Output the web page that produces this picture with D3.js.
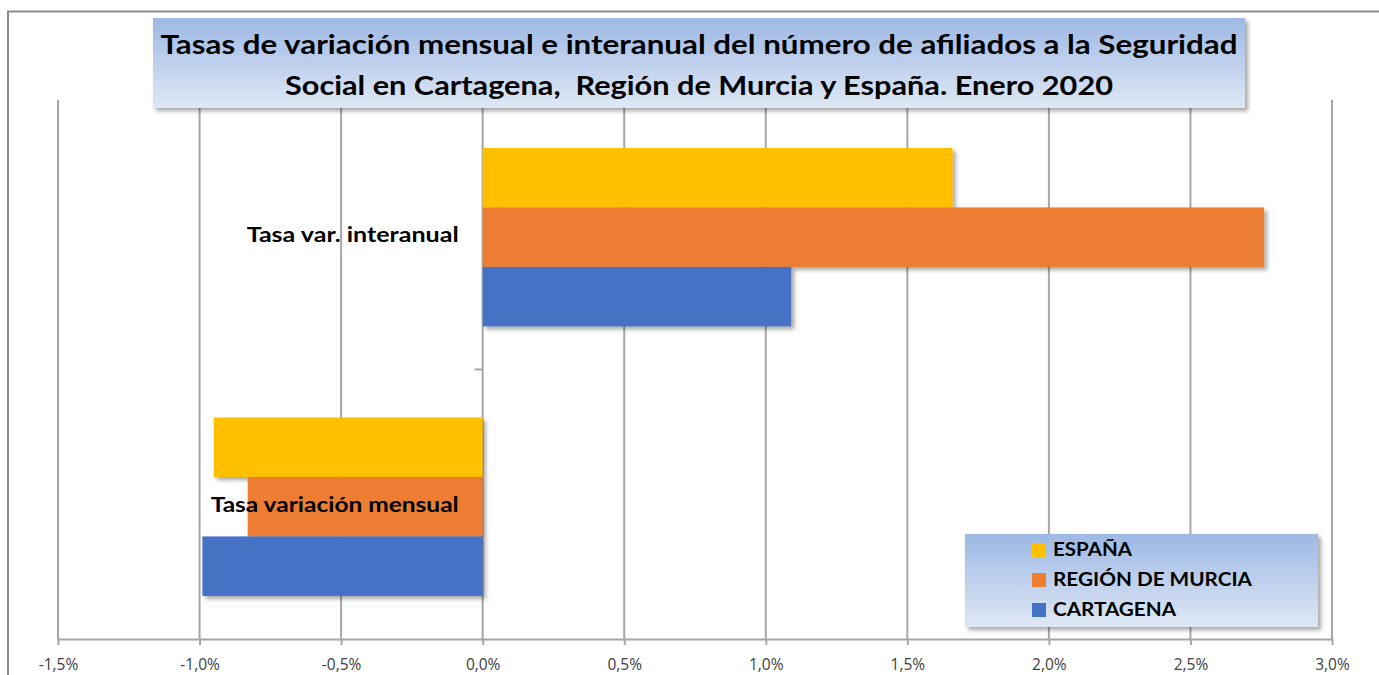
<!DOCTYPE html>
<html><head><meta charset="utf-8">
<script src="https://cdn.jsdelivr.net/npm/d3@7"></script>
<style>
html,body{margin:0;padding:0;background:#fff;}
svg{display:block;}
text{font-family:Lato,"Open Sans",sans-serif;}
</style></head>
<body>
<svg id="chart" width="1379" height="675"></svg>
<script>
const categories = ["Tasa var. interanual", "Tasa variación mensual"];
const seriesNames = ["ESPAÑA", "REGIÓN DE MURCIA", "CARTAGENA"];
const espana = [1.66, -0.95];
const murcia = [2.76, -0.83];
const cartagena = [1.09, -0.99];
const seriesColors = ["#FFC000", "#ED7D31", "#4472C4"];
const xTicks = [-1.5, -1.0, -0.5, 0, 0.5, 1.0, 1.5, 2.0, 2.5, 3.0];
const titleLines = ["Tasas de variación mensual e interanual del número de afiliados a la Seguridad",
                    "Social en Cartagena,  Región de Murcia y España. Enero 2020"];

// text widths (layout only)
const titleWidths = [1077, 828];
const catLabelWidths = [212, 248];
const legendWidths = [79, 199, 123];

const seriesValues = [espana, murcia, cartagena];

const svg = d3.select("#chart");
const defs = svg.append("defs");
const sh = defs.append("filter").attr("id","shadow").attr("x","-10%").attr("y","-10%").attr("width","130%").attr("height","140%");
sh.append("feDropShadow").attr("dx",3).attr("dy",3).attr("stdDeviation",2).attr("flood-color","#000").attr("flood-opacity",0.35);
const grad = defs.append("linearGradient").attr("id","boxgrad").attr("x1",0).attr("y1",0).attr("x2",0).attr("y2",1);
grad.append("stop").attr("offset","0%").attr("stop-color","#9DB8E4");
grad.append("stop").attr("offset","100%").attr("stop-color","#DFE8F5");

// outer border
svg.append("path").attr("d","M8,675 V11.5 H1379").attr("fill","none").attr("stroke","#8c8c8c").attr("stroke-width",2);

const plot = {left:58, right:1332, top:100, bottom:639};
const x = d3.scaleLinear().domain([-1.5, 3.0]).range([plot.left, plot.right]);
const y0 = d3.scaleBand().domain(categories).range([plot.top, plot.bottom]).padding(0);
const bw = y0.bandwidth();
const y1 = d3.scaleBand().domain(seriesNames).range([bw*0.178, bw*0.84]).padding(0);

// gridlines
svg.append("g").selectAll("line").data(xTicks).join("line")
  .attr("x1", d=>x(d)).attr("x2", d=>x(d))
  .attr("y1", plot.top).attr("y2", plot.bottom)
  .attr("stroke","#a6a6a6").attr("stroke-width",2);

// x axis
const xAxis = d3.axisBottom(x).tickValues(xTicks).tickSize(6).tickSizeOuter(0)
  .tickFormat(d => d3.format(".1f")(d).replace(".", ",").replace("−","-") + "%");
const gx = svg.append("g").attr("transform",`translate(0,${plot.bottom})`).call(xAxis);
gx.select(".domain").attr("stroke","#a6a6a6").attr("stroke-width",2);
gx.selectAll(".tick line").attr("stroke","#a6a6a6").attr("stroke-width",2);
gx.selectAll(".tick text").attr("dy","1.4em").attr("font-size","15.5px").attr("fill","#404040")
  .style("font-family","'Open Sans',sans-serif");

// category boundary tick on zero axis
svg.append("line").attr("x1", x(0)-8).attr("x2", x(0))
  .attr("y1", y0(categories[1])).attr("y2", y0(categories[1]))
  .attr("stroke","#a6a6a6").attr("stroke-width",2);

// bars
const groups = svg.append("g").selectAll("g").data(categories).join("g")
  .attr("transform", d=>`translate(0,${y0(d)})`);
groups.each(function(cat, ci){
  d3.select(this).selectAll("rect").data(seriesNames).join("rect")
    .attr("x", (s,si)=> x(Math.min(0, seriesValues[si][ci])))
    .attr("width", (s,si)=> Math.abs(x(seriesValues[si][ci]) - x(0)))
    .attr("y", s=> y1(s))
    .attr("height", y1.bandwidth())
    .attr("fill", (s,si)=> seriesColors[si])
    .attr("filter","url(#shadow)");
});

// category labels
svg.append("g").selectAll("text").data(categories).join("text")
  .attr("x", x(0) - 24)
  .attr("y", d=> y0(d) + bw*0.5 + 2)
  .attr("text-anchor","end").attr("dominant-baseline","middle")
  .attr("font-size","20.5px").attr("font-weight","bold").attr("fill","#000")
  .attr("textLength",(d,i)=>catLabelWidths[i]).attr("lengthAdjust","spacingAndGlyphs")
  .text(d=>d);

// title box
svg.append("rect").attr("x",153).attr("y",18).attr("width",1092).attr("height",90)
  .attr("fill","url(#boxgrad)").attr("filter","url(#shadow)");
svg.append("g").selectAll("text").data(titleLines).join("text")
  .attr("x", 699).attr("y",(d,i)=> 47 + i*41)
  .attr("text-anchor","middle").attr("dominant-baseline","middle")
  .attr("font-size","26.5px").attr("font-weight","bold").attr("fill","#000")
  .style("white-space","pre")
  .attr("textLength",(d,i)=>titleWidths[i]).attr("lengthAdjust","spacingAndGlyphs")
  .text(d=>d);

// legend
const lg = svg.append("g").attr("transform","translate(965,534)");
lg.append("rect").attr("width",353).attr("height",93).attr("fill","url(#boxgrad)").attr("filter","url(#shadow)");
const items = lg.selectAll("g").data(seriesNames).join("g")
  .attr("transform",(d,i)=>`translate(67,${9 + i*30})`);
items.append("rect").attr("width",14).attr("height",14).attr("fill",(d,i)=>seriesColors[i]);
items.append("text").attr("x",21).attr("y",8).attr("dominant-baseline","middle")
  .attr("font-size","19px").attr("font-weight","bold").attr("fill","#000")
  .attr("textLength",(d,i)=>legendWidths[i]).attr("lengthAdjust","spacingAndGlyphs")
  .text(d=>d);
</script>
</body></html>
